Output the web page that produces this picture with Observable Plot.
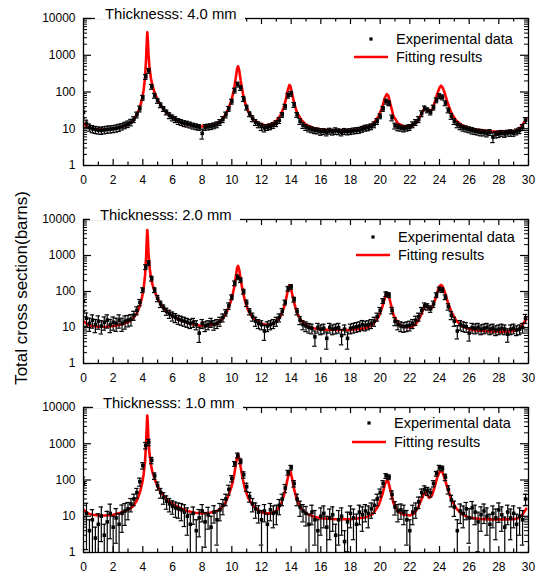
<!DOCTYPE html>
<html>
<head>
<meta charset="utf-8">
<script src="https://cdn.jsdelivr.net/npm/d3@7"></script>
<script src="https://cdn.jsdelivr.net/npm/@observablehq/plot@0.6"></script>
<style>
  body { margin: 0; background: #fff; }
  #wrap { position: relative; width: 536px; height: 574px; overflow: hidden; background: #fff;
          font-family: "Liberation Sans", Arial, Helvetica, sans-serif; }
  #wrap svg.panel { position: absolute; left: 0; }
  #overlay { position: absolute; left: 0; top: 0; pointer-events: none; }
</style>
</head>
<body>
<div id="wrap"></div>
<script>
// ---------------- DATA ----------------
const energy = [0,0.2,0.4,0.6,0.8,1,1.2,1.4,1.6,1.8,2,2.2,2.4,2.6,2.8,3,3.2,3.4,3.6,3.8,4,4.2,4.4,4.6,4.8,5,5.2,5.4,5.6,5.8,6,6.2,6.4,6.6,6.8,7,7.2,7.4,7.6,7.8,8,8.2,8.4,8.6,8.8,9,9.2,9.4,9.6,9.8,10,10.2,10.4,10.6,10.8,11,11.2,11.4,11.6,11.8,12,12.2,12.4,12.6,12.8,13,13.2,13.4,13.6,13.8,14,14.2,14.4,14.6,14.8,15,15.2,15.4,15.6,15.8,16,16.2,16.4,16.6,16.8,17,17.2,17.4,17.6,17.8,18,18.2,18.4,18.6,18.8,19,19.2,19.4,19.6,19.8,20,20.2,20.4,20.6,20.8,21,21.2,21.4,21.6,21.8,22,22.2,22.4,22.6,22.8,23,23.2,23.4,23.6,23.8,24,24.2,24.4,24.6,24.8,25,25.2,25.4,25.6,25.8,26,26.2,26.4,26.6,26.8,27,27.2,27.4,27.6,27.8,28,28.2,28.4,28.6,28.8,29,29.2,29.4,29.6,29.8];

const exp4mm = [28,14,11,10,9.5,9.2,9,9.3,9.6,9.8,
 10,10.3,10.8,11.5,12.5,13.5,15,18,24,35,
 70,260,380,140,80,58,44,35,28,23,
 20,18,16,15,14,13.5,12.8,12,11.5,11,
 7.5,11,11.3,11.6,12.2,13,15,18,24,35,
 55,110,160,130,65,38,25,19,15,13,
 11.5,10.5,11,11.5,12.5,14,17,24,40,80,
 90,45,24,16,12.5,11,10,9.5,9,8.8,
 8.3,8.5,8,8.7,8.2,8.8,8.4,8,8.6,8.3,
 8.5,8.8,9,9.2,9.8,10.5,10.8,11.5,13,16,
 22,35,55,50,20,12,11,10.5,10,10.5,
 11,13,15,18,26,36,32,28,38,60,
 78,72,50,32,22,16,13,11.5,10.5,10,
 9.5,9,8.5,8.2,8,7.8,7.5,8,6,7,
 7.2,7.6,7.3,7.7,7.8,7.6,8.3,9,11,17];
const err4mm = [30,22,22,22,22,22,22,22,22,22,
 22,22,22,20,20,20,20,18,18,18,
 15,15,15,15,15,15,15,15,15,18,
 18,18,18,18,18,18,18,18,18,18,
 30,18,18,18,18,18,18,18,18,15,
 15,15,15,15,15,15,15,18,18,18,
 22,22,18,18,18,18,18,15,15,15,
 15,15,15,18,18,18,18,18,18,18,
 20,18,20,18,18,20,18,20,18,18,
 18,18,18,18,18,18,18,18,18,18,
 15,15,15,15,18,18,20,18,18,18,
 18,18,18,18,18,15,15,15,15,15,
 15,15,15,15,18,18,18,18,18,18,
 18,20,18,18,20,18,20,18,30,20,
 20,18,20,18,20,18,18,18,18,18];

const exp2mm = [55,18,13,16,12,15,11,14,16,12,
 14,13,16,13,15,16,17,22,30,50,
 110,480,620,230,110,65,45,35,28,24,
 21,19,17,16,15,14,13,14,12,7,
 13,11,12,14,12,13,15,19,26,40,
 70,170,250,210,100,48,28,20,15,13,
 12,8,11,12,13,15,19,28,50,120,
 135,60,28,16,12,11,10,9.5,5.5,10,
 9,9.5,5,10,9,9.5,10,6,9,5,
 9.5,10,10.5,11,12,11.5,12,13,15,20,
 30,55,85,80,30,15,12,11,10.5,11,
 11.5,13,16,20,30,40,38,33,45,80,
 115,110,70,38,22,15,8,12,11,10.5,
 7,10,9.5,10,9,9.5,10,9,9.5,8.5,
 9,9.5,9,6.5,9,9.5,8.5,9,10,18];
const err2mm = [50,40,40,40,40,40,40,40,40,40,
 40,40,40,40,40,35,35,28,25,20,
 15,15,15,15,15,20,20,20,22,25,
 28,28,28,28,28,28,28,28,28,45,
 28,30,28,28,30,28,28,25,20,20,
 15,15,15,15,15,20,20,25,28,28,
 28,45,30,28,28,28,25,20,15,15,
 15,15,20,25,28,30,30,30,45,30,
 30,30,50,30,30,30,30,45,30,50,
 30,30,30,30,30,30,28,28,28,25,
 20,15,15,15,20,25,28,30,30,30,
 30,28,28,25,20,20,20,20,20,15,
 15,15,15,20,25,28,40,30,30,30,
 40,30,30,30,30,30,30,30,30,30,
 30,30,30,40,30,30,30,30,30,28];

const exp1mm = [80,12,4,8,2.5,6,10,3,7,12,
 5,9,6,12,14,16,22,30,45,90,
 250,900,1100,350,130,70,45,33,26,22,
 19,17,16,15,13,10,6,12,4,9,
 14,7,11,5,13,8,15,20,30,55,
 110,280,480,330,140,65,35,22,16,13,
 8,14,6,15,12,13,20,30,60,160,
 220,80,30,18,14,12,6,13,8,4,
 10,12,5,9,11,3,8,10,2,7,
 12,9,6,13,11,14,12,16,20,30,
 45,80,130,120,40,18,14,15,13,8,
 4,13,16,25,45,55,50,45,80,150,
 220,210,120,55,28,18,4,14,12,16,
 9,17,13,7,11,14,10,6,12,9,
 15,11,5,13,9,12,6,10,8,30];
const err1mm = [50,90,100,90,100,95,80,100,95,80,
 100,80,95,70,60,50,40,35,30,25,
 20,20,20,20,20,25,30,35,40,40,
 40,45,45,50,60,70,90,50,100,70,
 50,80,60,100,50,80,50,45,35,30,
 20,15,15,15,20,25,30,40,45,50,
 80,50,90,50,60,55,45,35,25,15,
 15,20,35,45,50,55,90,55,80,100,
 70,60,100,75,65,100,80,70,100,85,
 60,75,90,55,65,50,60,45,40,35,
 25,20,15,15,25,40,50,45,55,80,
 100,55,45,35,25,25,25,25,20,15,
 15,15,20,25,35,45,100,55,60,50,
 80,50,55,85,65,55,70,90,60,75,
 55,65,90,55,75,60,90,70,80,35];

const fitEnergy = [0,0.3,0.6,1,1.5,2,2.5,3,3.3,3.6,
 3.8,3.95,4.05,4.15,4.22,4.27,4.3,4.33,4.38,4.45,
 4.55,4.65,4.8,5,5.3,5.6,6,6.5,7,7.5,
 8,8.5,9,9.3,9.6,9.8,10,10.15,10.27,10.35,
 10.42,10.5,10.6,10.75,10.9,11.1,11.4,11.8,12.2,12.6,
 13,13.3,13.5,13.65,13.78,13.88,13.95,14.05,14.2,14.4,
 14.7,15,15.5,16,17,18,19,19.5,19.9,20.15,
 20.32,20.45,20.55,20.7,20.9,21.2,21.6,22,22.3,22.55,
 22.75,22.95,23.1,23.3,23.5,23.7,23.85,24,24.1,24.2,
 24.35,24.55,24.8,25.1,25.5,26,26.5,27,27.5,28,
 28.5,29,29.3,29.55,29.75,29.85];
const fit4mm = [14,11,10,9.5,9.5,10,11,13,16,24,
 38,65,110,250,800,2500,4200,3000,1100,450,
 230,150,95,60,38,27,20,15,13,12,
 11.5,12,14,17,25,38,65,120,250,420,
 500,380,200,90,50,30,19,14,12.5,13,
 16,24,38,65,115,155,145,95,50,27,
 17,13,10.5,9.5,9,9,10.5,13,22,40,
 70,88,80,45,22,14,11.5,11.5,13,17,
 24,34,35,30,33,55,90,130,148,135,
 95,50,27,17,12.5,10.5,9.5,9,8.5,8.3,
 8.3,8.6,9.5,12,16,18];
const fit2mm = [15,12,11,10.5,10.5,11,12,14,17,25,
 40,70,120,280,900,3000,5100,3500,1200,480,
 240,155,100,62,40,28,21,16,13.5,12,
 11,11.5,13,16,24,37,65,125,260,440,
 515,400,210,95,52,30,19,14,12,12,
 14.5,21,34,60,110,150,140,92,48,25,
 15,11.5,9.5,8.8,8.5,8.6,9.5,12,20,38,
 68,92,85,48,22,13,10.5,10,11.5,15,
 22,36,41,33,36,58,95,140,152,140,
 98,52,27,16,11,9,8.3,8,7.8,7.7,
 7.7,8,8.8,11,15,17];
const fit1mm = [15,12,11,10.5,10.5,11,12.5,15,18,27,
 45,80,140,320,1100,3500,6000,4000,1300,520,
 260,165,105,65,42,29,22,17,14,12.5,
 12,12.5,14,17,25,40,70,130,270,430,
 500,400,220,100,55,32,20,14.5,12,12,
 14,21,36,65,120,170,175,115,55,27,
 16,12,9.8,8.8,8.3,8.3,9.2,11.5,20,40,
 75,98,90,50,23,13.5,11,10.5,12,17,
 27,42,46,32,38,70,120,165,178,165,
 110,58,29,17,11.5,9.2,8.6,8.3,8.2,8.2,
 8.2,8.3,8.8,10.5,14,16];

const xTickLabels = [0,2,4,6,8,10,12,14,16,18,20,22,24,26,28,30];
const xMinorTicks = [1,3,5,7,9,11,13,15,17,19,21,23,25,27,29];
const yTickLabels = [1,10,100,1000,10000];
const panelTitles = ["Thicknesss: 4.0 mm", "Thicknesss: 2.0 mm", "Thicknesss: 1.0 mm"];
const legendLabels = ["Experimental data", "Fitting results"];
const yAxisTitle = "Total cross section(barns)";

// ---------------- LAYOUT ----------------
const FONT = '"Liberation Sans", Arial, Helvetica, sans-serif';
const panels = [
  {title: panelTitles[0], exp: exp4mm, err: err4mm, fit: fit4mm, top: 18, bottom: 165, titleX: 105,
   leg: {mx: 371, my: 39, tx: 396, ly: 57, l1: 354, l2: 388}},
  {title: panelTitles[1], exp: exp2mm, err: err2mm, fit: fit2mm, top: 219, bottom: 363, titleX: 100,
   leg: {mx: 373, my: 237, tx: 398, ly: 255, l1: 356, l2: 390}},
  {title: panelTitles[2], exp: exp1mm, err: err1mm, fit: fit1mm, top: 407, bottom: 552, titleX: 103,
   leg: {mx: 369, my: 423, tx: 394, ly: 442, l1: 352, l2: 386}}
];

const wrap = document.getElementById("wrap");
const ML = 83, MR = 8, MT = 18, MB = 28, W = 536;
const yMinor = d3.scaleLog().domain([1, 10000]).ticks().filter(t => !yTickLabels.includes(t));

panels.forEach(p => {
  const fh = p.bottom - p.top;
  const fw = W - ML - MR;
  const expData = energy.map((e, i) => ({
    e, v: p.exp[i],
    lo: Math.max(p.exp[i] * (1 - p.err[i] / 100), 0.3),
    hi: p.exp[i] * (1 + p.err[i] / 100)
  }));
  const fitData = fitEnergy.map((e, i) => ({e, v: p.fit[i]}));
  const topMajor = xTickLabels.filter(t => t >= 11);
  const topMinor = xMinorTicks.filter(t => t >= 11);
  const svg = Plot.plot({
    width: W, height: fh + MT + MB,
    marginLeft: ML, marginRight: MR, marginTop: MT, marginBottom: MB,
    style: {fontFamily: FONT, fontSize: "12px", color: "black", background: "transparent", overflow: "visible"},
    x: {domain: [0, 30], ticks: xTickLabels, tickSize: 0, tickPadding: 10, label: null},
    y: {type: "log", domain: [1, 10000], ticks: yTickLabels, tickFormat: d => String(d), tickSize: 0, tickPadding: 8, label: null},
    marks: [
      Plot.line(fitData, {x: "e", y: "v", stroke: "#ff0000", strokeWidth: 2.6, clip: true}),
      Plot.ruleX(expData, {x: "e", y1: "lo", y2: "hi", stroke: "black", strokeWidth: 1.2, clip: true}),
      Plot.ruleY(expData, {y: "lo", x1: d => d.e - 0.15, x2: d => d.e + 0.15, stroke: "black", strokeWidth: 1.2, clip: true}),
      Plot.ruleY(expData, {y: "hi", x1: d => d.e - 0.15, x2: d => d.e + 0.15, stroke: "black", strokeWidth: 1.2, clip: true}),
      Plot.dot(expData, {x: "e", y: "v", symbol: "square", r: 2, fill: "black", stroke: "none", clip: true}),
      // inward ticks
      Plot.tickX(xTickLabels, {x: d => d, insetTop: fh - 6, stroke: "black", strokeWidth: 1.2}),
      Plot.tickX(xMinorTicks, {x: d => d, insetTop: fh - 3.5, stroke: "black", strokeWidth: 1.2}),
      Plot.tickX(topMajor, {x: d => d, insetBottom: fh - 6, stroke: "black", strokeWidth: 1.2}),
      Plot.tickX(topMinor, {x: d => d, insetBottom: fh - 3.5, stroke: "black", strokeWidth: 1.2}),
      Plot.tickY(yTickLabels, {y: d => d, insetRight: fw - 8, stroke: "black", strokeWidth: 1.2}),
      Plot.tickY(yMinor, {y: d => d, insetRight: fw - 4, stroke: "black", strokeWidth: 1}),
      Plot.tickY(yTickLabels, {y: d => d, insetLeft: fw - 8, stroke: "black", strokeWidth: 1.2}),
      Plot.tickY(yMinor, {y: d => d, insetLeft: fw - 4, stroke: "black", strokeWidth: 1}),
      Plot.frame({stroke: "black", strokeWidth: 1.3})
    ]
  });
  svg.classList.add("panel");
  svg.style.top = (p.top - MT) + "px";
  wrap.appendChild(svg);
});

// ---------------- OVERLAY: titles, legends, y-axis title ----------------
const ns = "http://www.w3.org/2000/svg";
const ov = document.createElementNS(ns, "svg");
ov.setAttribute("id", "overlay");
ov.setAttribute("width", W);
ov.setAttribute("height", 574);
function el(tag, attrs, text) {
  const e = document.createElementNS(ns, tag);
  for (const k in attrs) e.setAttribute(k, attrs[k]);
  if (text != null) e.textContent = text;
  ov.appendChild(e);
  return e;
}
panels.forEach(p => {
  el("rect", {x: p.titleX - 10, y: p.top - 13, width: 150, height: 14.5, fill: "white"});
  el("text", {x: p.titleX, y: p.top + 1, "font-family": FONT, "font-size": 14.8, fill: "black"}, p.title);
  const L = p.leg;
  el("rect", {x: L.mx - 1.6, y: L.my - 1.6, width: 3.2, height: 3.2, fill: "black"});
  el("text", {x: L.tx, y: L.my + 5.2, "font-family": FONT, "font-size": 14.5, fill: "black"}, legendLabels[0]);
  el("line", {x1: L.l1, x2: L.l2, y1: L.ly, y2: L.ly, stroke: "#ff0000", "stroke-width": 2.4});
  el("text", {x: L.tx, y: L.ly + 5.2, "font-family": FONT, "font-size": 14.5, fill: "black"}, legendLabels[1]);
});
el("text", {transform: "translate(27,288) rotate(-90)", "text-anchor": "middle", "font-family": FONT, "font-size": 17, fill: "black"}, yAxisTitle);
wrap.appendChild(ov);
</script>
</body>
</html>
